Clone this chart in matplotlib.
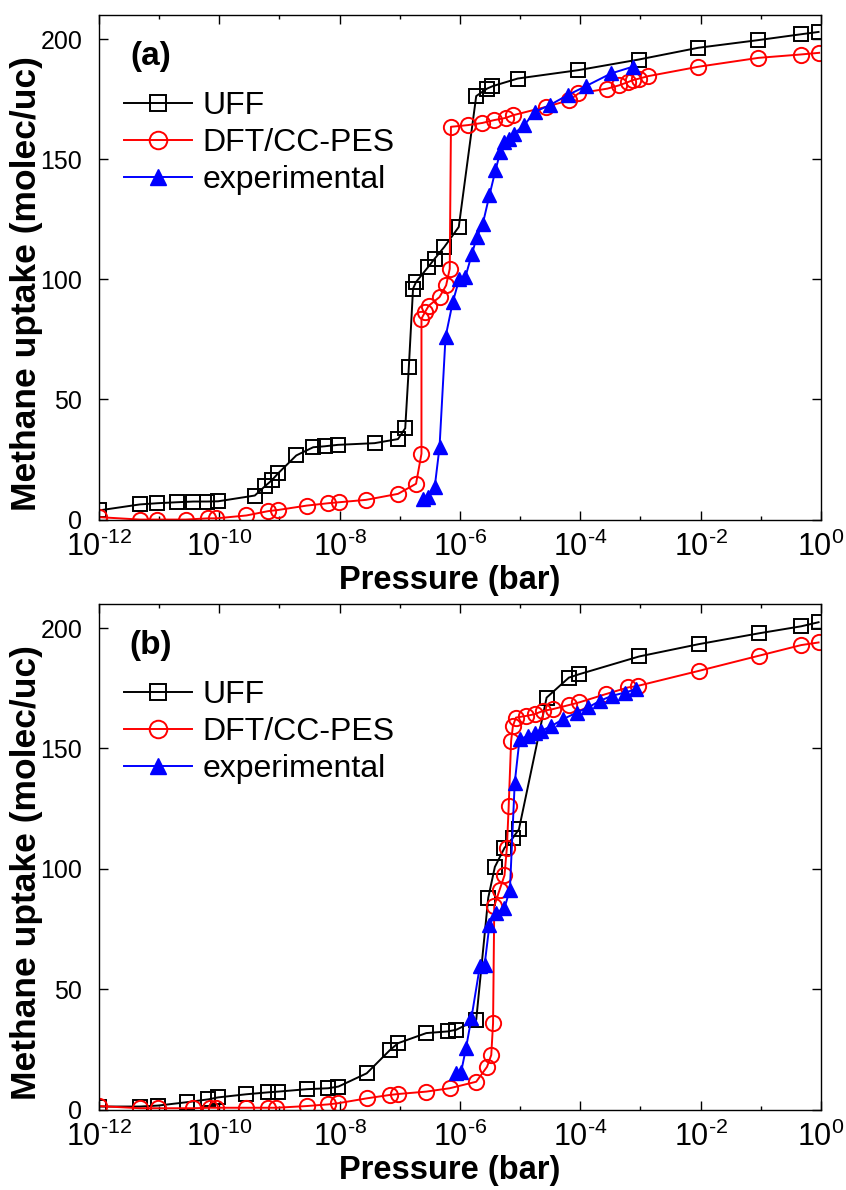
import numpy as np
import matplotlib
matplotlib.use("Agg")
import matplotlib.pyplot as plt

plt.rcParams["font.family"] = ["Liberation Sans", "DejaVu Sans"]
plt.rcParams["mathtext.fontset"] = "custom"
plt.rcParams["mathtext.rm"] = "Liberation Sans"

# panel (a): log10(pressure / bar) and uptake (molec/uc)
A_UFF_LOGP = [-12.0, -11.32, -11.03, -10.71, -10.43, -10.21, -10.02, -9.41, -9.24, -9.13,
              -9.02, -8.72, -8.44, -8.25, -8.03, -7.42, -7.03, -6.91, -6.85, -6.78,
              -6.73, -6.53, -6.42, -6.26, -6.02, -5.73, -5.55, -5.46, -5.04, -4.03,
              -3.03, -2.04, -1.04, -0.34, -0.04]
A_UFF = [3.8, 6.3, 6.8, 7.2, 7.5, 7.5, 7.6, 10.0, 13.9, 16.3,
         19.3, 26.7, 30.1, 30.5, 31.1, 31.8, 33.5, 38.0, 63.5, 96.1,
         98.9, 105.1, 108.6, 113.5, 121.8, 176.3, 179.4, 180.4, 183.6, 187.1,
         191.5, 196.4, 199.6, 202.0, 203.0]

A_DFT_LOGP = [-12.0, -11.32, -11.03, -10.56, -10.19, -10.05, -9.55, -9.19, -9.02, -8.55,
              -8.19, -8.01, -7.56, -7.03, -6.73, -6.64, -6.64, -6.58, -6.52, -6.34,
              -6.23, -6.17, -6.15, -5.87, -5.63, -5.43, -5.24, -5.12, -4.57, -4.18,
              -4.03, -3.55, -3.35, -3.2, -3.13, -3.02, -2.87, -2.04, -1.04, -0.34, -0.03]
A_DFT = [1.0, 0.0, 0.0, 0.0, 0.5, 0.5, 1.7, 3.5, 4.0, 5.8,
         6.8, 7.2, 8.2, 10.7, 14.9, 27.4, 83.6, 86.4, 89.0, 92.6,
         97.5, 104.4, 163.5, 164.2, 165.1, 166.3, 167.2, 168.3, 171.8, 174.6,
         177.4, 179.4, 180.8, 182.2, 182.9, 183.6, 184.6, 188.5, 192.2, 193.6, 194.3]

A_EXP_LOGP = [-6.62, -6.53, -6.42, -6.34, -6.24, -6.12, -6.01, -5.91, -5.8, -5.72,
              -5.62, -5.51, -5.41, -5.33, -5.26, -5.18, -5.1, -4.93, -4.76, -4.51,
              -4.21, -3.91, -3.49, -3.13]
A_EXP = [8.6, 9.3, 13.5, 30.1, 76.0, 90.5, 100.3, 101.0, 110.7, 117.6,
         123.2, 135.0, 145.4, 153.0, 157.2, 158.6, 160.7, 164.2, 169.7, 172.5,
         176.7, 180.4, 185.7, 188.5]

# panel (b)
B_UFF_LOGP = [-12.0, -11.32, -11.02, -10.54, -10.18, -10.02, -9.55, -9.19, -9.02, -8.55,
              -8.19, -8.02, -7.55, -7.17, -7.03, -6.56, -6.2, -6.06, -5.73, -5.53,
              -5.42, -5.26, -5.12, -5.02, -4.56, -4.19, -4.02, -3.02, -2.03, -1.03,
              -0.33, -0.04]
B_UFF = [1.3, 1.3, 1.7, 3.1, 4.3, 5.1, 6.4, 7.2, 7.5, 8.5,
         8.9, 9.6, 15.1, 24.6, 27.6, 31.8, 32.5, 33.2, 37.3, 88.0,
         100.8, 108.7, 112.9, 116.4, 171.1, 179.4, 180.8, 188.2, 193.3, 197.8,
         200.7, 202.4]

B_DFT_LOGP = [-12.0, -11.32, -11.02, -10.43, -10.16, -10.05, -9.55, -9.19, -9.05, -8.55,
              -8.19, -8.02, -7.55, -7.17, -7.03, -6.56, -6.17, -5.73, -5.55, -5.48,
              -5.45, -5.43, -5.34, -5.26, -5.22, -5.19, -5.15, -5.12, -5.07, -4.9,
              -4.76, -4.62, -4.46, -4.19, -4.02, -3.57, -3.21, -3.04, -2.03, -1.03,
              -0.33, -0.04]
B_DFT = [1.5, 0.6, 0.6, 0.6, 0.8, 0.8, 0.8, 0.8, 0.8, 1.5,
         2.2, 2.7, 4.7, 6.1, 6.5, 7.5, 8.9, 11.6, 17.8, 22.7,
         35.9, 84.5, 91.4, 97.3, 108.8, 126.1, 153.1, 159.3, 162.8, 163.5,
         164.2, 165.6, 166.3, 168.0, 169.1, 172.6, 175.3, 176.0, 182.2, 188.5,
         192.9, 194.0]

B_EXP_LOGP = [-6.06, -5.98, -5.9, -5.81, -5.67, -5.59, -5.51, -5.4, -5.26, -5.17,
              -5.09, -5.01, -4.87, -4.76, -4.65, -4.48, -4.29, -4.06, -3.87, -3.68,
              -3.48, -3.26, -3.07]
B_EXP = [15.1, 15.8, 25.5, 38.0, 59.5, 60.2, 76.8, 81.7, 83.8, 91.4,
         135.7, 153.8, 155.2, 156.6, 157.3, 159.3, 162.1, 164.9, 167.0, 169.7,
         171.8, 173.2, 174.6]

LABELS = ["UFF", "DFT/CC-PES", "experimental"]
MAJOR_EXP = [-12, -10, -8, -6, -4, -2, 0]
MINOR_EXP = [-11, -9, -7, -5, -3, -1]
Y_TICKS = [0, 50, 100, 150, 200]


def exp_label(e):
    # plain hyphen in the exponent, like the original figure
    return r"$\mathdefault{10^{\text{%s}}}$" % str(e)


def draw_panel(ax, tag, uff, dft, exp):
    lw = 1.4
    ax.plot(10.0 ** np.array(uff[0]), uff[1], color="k", lw=lw, marker="s",
            ms=10, mfc="none", mew=1.4, label=LABELS[0])
    ax.plot(10.0 ** np.array(dft[0]), dft[1], color="#ff0000", lw=lw, marker="o",
            ms=11, mfc="none", mew=1.4, label=LABELS[1])
    ax.plot(10.0 ** np.array(exp[0]), exp[1], color="#0000ff", lw=lw, marker="^",
            ms=10, mfc="#0000ff", mec="#0000ff", label=LABELS[2])

    ax.set_xscale("log")
    ax.set_xlim(1e-12, 1.0)
    ax.set_ylim(0, 210)

    ax.set_xticks([10.0 ** e for e in MAJOR_EXP])
    ax.set_xticklabels([exp_label(e) for e in MAJOR_EXP])
    ax.set_xticks([10.0 ** e for e in MINOR_EXP], minor=True)
    ax.set_xticklabels([], minor=True)
    ax.set_yticks(Y_TICKS)

    ax.tick_params(which="both", direction="in", top=True, right=True, width=1.0)
    ax.tick_params(which="major", length=6.5)
    ax.tick_params(which="minor", length=3)
    ax.tick_params(axis="x", labelsize=22, pad=9)
    ax.tick_params(axis="y", labelsize=18, pad=12)
    for s in ax.spines.values():
        s.set_linewidth(1.0)

    ax.set_xlabel("Pressure (bar)", fontsize=23.5, fontweight="bold")
    ax.set_ylabel("Methane uptake (molec/uc)", fontsize=25.5, fontweight="bold")
    ax.xaxis.set_label_coords(0.486, -0.09)
    ax.yaxis.set_label_coords(-0.077, 0.468)

    ax.text(0.072, 0.917, tag, transform=ax.transAxes, fontsize=24,
            fontweight="bold", ha="center", va="center")
    ax.legend(loc="upper left", bbox_to_anchor=(0.022, 0.869), frameon=False,
              fontsize=23, handlelength=2.1, handletextpad=0.35,
              labelspacing=0.22, borderaxespad=0.0, borderpad=0.3,
              markerscale=1.15)


fig = plt.figure(figsize=(8.46, 11.9), dpi=100)
ax_a = fig.add_axes([0.117, 0.5634, 0.8534, 0.4239])
ax_b = fig.add_axes([0.117, 0.0675, 0.8534, 0.425])

draw_panel(ax_a, "(a)", (A_UFF_LOGP, A_UFF), (A_DFT_LOGP, A_DFT), (A_EXP_LOGP, A_EXP))
draw_panel(ax_b, "(b)", (B_UFF_LOGP, B_UFF), (B_DFT_LOGP, B_DFT), (B_EXP_LOGP, B_EXP))

fig.savefig("out.png", dpi=100)
